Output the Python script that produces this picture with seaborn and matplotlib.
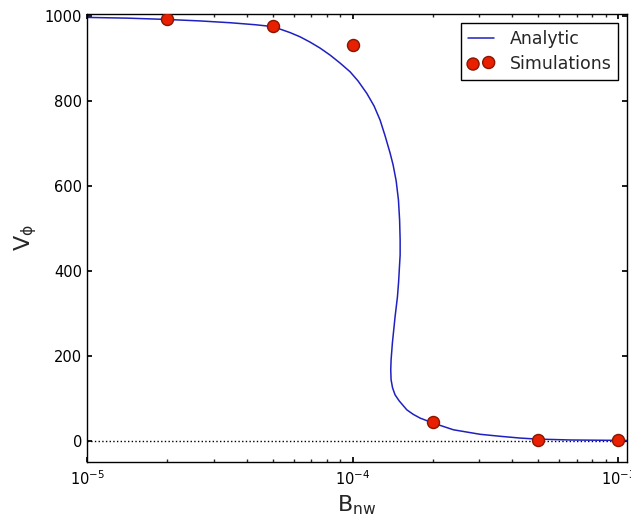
import matplotlib
matplotlib.use("Agg")
import matplotlib.pyplot as plt
import seaborn as sns

# analytic curve (B_nw, V_phi); it folds back on itself,
# so the points are kept in drawing order
analytic_B = [1.000e-5, 1.415e-5, 2.001e-5, 2.665e-5, 3.456e-5, 4.293e-5, 5.018e-5,
              5.815e-5, 6.341e-5, 6.916e-5, 7.544e-5, 8.229e-5, 8.973e-5, 9.786e-5,
              1.049e-4, 1.131e-4, 1.205e-4, 1.269e-4, 1.326e-4, 1.384e-4, 1.421e-4,
              1.459e-4, 1.488e-4, 1.503e-4, 1.510e-4, 1.510e-4, 1.501e-4, 1.490e-4,
              1.475e-4, 1.445e-4, 1.412e-4, 1.396e-4, 1.392e-4, 1.396e-4, 1.414e-4,
              1.445e-4, 1.497e-4, 1.600e-4, 1.690e-4, 1.796e-4, 2.014e-4, 2.397e-4,
              3.021e-4, 3.594e-4, 4.274e-4, 4.953e-4, 6.595e-4, 1.017e-3, 1.080e-3]
analytic_V = [997.0, 995.3, 992.2, 988.7, 984.5, 979.8, 975.3,
              961.2, 951.3, 938.8, 924.7, 908.2, 889.4, 868.9,
              847.1, 818.1, 788.2, 755.3, 717.6, 677.6, 649.4,
              611.8, 567.1, 520.0, 472.9, 437.6, 409.4, 374.1,
              338.8, 291.8, 230.6, 190.6, 167.1, 143.5, 124.7,
              108.2, 94.1, 72.9, 62.4, 53.4, 41.6, 25.9,
              15.3, 10.6, 6.4, 4.0, 1.9, 0.9, 0.8]

# simulation points
sim_B = [2e-5, 5e-5, 1e-4, 2e-4, 5e-4, 1e-3]
sim_V = [993, 977, 932, 45, 2.4, 0.7]

sns.set_theme(style="ticks", rc={
    "xtick.direction": "in", "ytick.direction": "in",
    "xtick.top": True, "ytick.right": True,
    "xtick.major.size": 3.5, "ytick.major.size": 3.5,
    "xtick.minor.size": 2, "ytick.minor.size": 2,
    "axes.linewidth": 1.0, "axes.edgecolor": "black",
})
plt.rcParams["font.family"] = ["DejaVu Sans"]

fig = plt.figure(figsize=(6.31, 5.23), dpi=100)
ax = fig.add_axes([0.138, 0.1166, 0.8557, 0.8566])

ax.axhline(0, color="black", ls=":", lw=1.0, zorder=1)
sns.lineplot(x=analytic_B, y=analytic_V, sort=False, estimator=None,
             color="#2020c0", lw=1.1, ax=ax, label="Analytic", zorder=2)
sns.scatterplot(x=sim_B, y=sim_V, color="#e82000", edgecolor="#8a1500",
                linewidth=1.0, s=75, ax=ax, label="Simulations", zorder=3)

ax.set_xscale("log")
ax.set_xlim(1e-5, 1.08e-3)
ax.set_ylim(-50, 1005)
ax.set_yticks([0, 200, 400, 600, 800, 1000])
ax.tick_params(labelsize=10.5, colors="black")
ax.tick_params(which="both", direction="in", top=True, right=True)
ax.tick_params(axis="x", pad=5)

ax.set_xlabel(r"$\mathregular{B_{nw}}$", fontsize=16)
ax.set_ylabel(r"$\mathregular{V_{\phi}}$", fontsize=16)

ax.legend(loc="upper right", scatterpoints=2, fontsize=12.5, frameon=True,
          fancybox=False, edgecolor="black", framealpha=1, handlelength=1.5,
          labelspacing=0.4, handletextpad=0.9, borderpad=0.4)

fig.savefig("out.png", dpi=100)
